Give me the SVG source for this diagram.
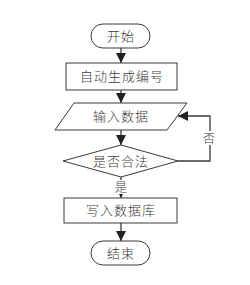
<svg xmlns="http://www.w3.org/2000/svg" width="250" height="285" viewBox="0 0 250 285">
<defs>
<style>
.s{fill:#fff;stroke:#3a3a3a;stroke-width:1}
.l{fill:none;stroke:#3a3a3a;stroke-width:1.3}
.t{font-family:"Noto Sans CJK SC","Noto Sans",sans-serif;font-size:13px;fill:#3a3a3a;text-anchor:middle;letter-spacing:1px;font-weight:300}
.sm{font-family:"Noto Sans CJK SC","Noto Sans",sans-serif;font-size:12px;fill:#3a3a3a;text-anchor:middle;font-weight:300}
</style>
<marker id="a" viewBox="0 0 10 10" refX="10" refY="5" markerWidth="10" markerHeight="10" markerUnits="userSpaceOnUse" orient="auto">
<path d="M0,0L10,5L0,10z" fill="#222"/>
</marker>
<marker id="b" viewBox="0 0 10 10" refX="10" refY="5" markerWidth="5" markerHeight="5" markerUnits="userSpaceOnUse" orient="auto">
<path d="M0,0L10,5L0,10z" fill="#222"/>
</marker>
</defs>
<rect width="250" height="285" fill="#fff"/>
<g id="connectors">
<line class="l" x1="121" y1="48" x2="121" y2="63" marker-end="url(#a)"/>
<line class="l" x1="121" y1="90" x2="121" y2="103" marker-end="url(#a)"/>
<line class="l" x1="121" y1="130" x2="121" y2="145" marker-end="url(#a)"/>
<line class="l" x1="121" y1="177" x2="121" y2="198" marker-end="url(#b)" stroke-width="1"/>
<line class="l" x1="121" y1="223" x2="121" y2="241" marker-end="url(#a)"/>
<polyline class="l" points="178,161 210,161 210,116 178,116" marker-end="url(#a)" stroke-width="1"/>
<rect x="114" y="180" width="14" height="14" fill="#fff"/>
<text class="sm" x="121" y="192">是</text>
<rect x="202" y="131" width="14" height="14" fill="#fff"/>
<text class="sm" x="209" y="143">否</text>
</g>
<g id="start">
<rect class="s" x="91" y="24" width="59" height="24" rx="12"/>
<text class="t" x="121" y="41">开始</text>
</g>
<g id="gen">
<rect class="s" x="66" y="63" width="111" height="27"/>
<text class="t" x="122" y="81">自动生成编号</text>
</g>
<g id="input">
<polygon class="s" points="74,103 187,103 167,130 55,130"/>
<text class="t" x="121" y="121">输入数据</text>
</g>
<g id="check">
<polygon class="s" points="63,161 121,145 178,161 121,177"/>
<text class="t" x="121" y="166">是否合法</text>
</g>
<g id="write">
<rect class="s" x="64" y="198" width="113" height="25"/>
<text class="t" x="121" y="215">写入数据库</text>
</g>
<g id="end">
<rect class="s" x="91" y="241" width="59" height="24" rx="12"/>
<text class="t" x="121" y="258">结束</text>
</g>
</svg>
